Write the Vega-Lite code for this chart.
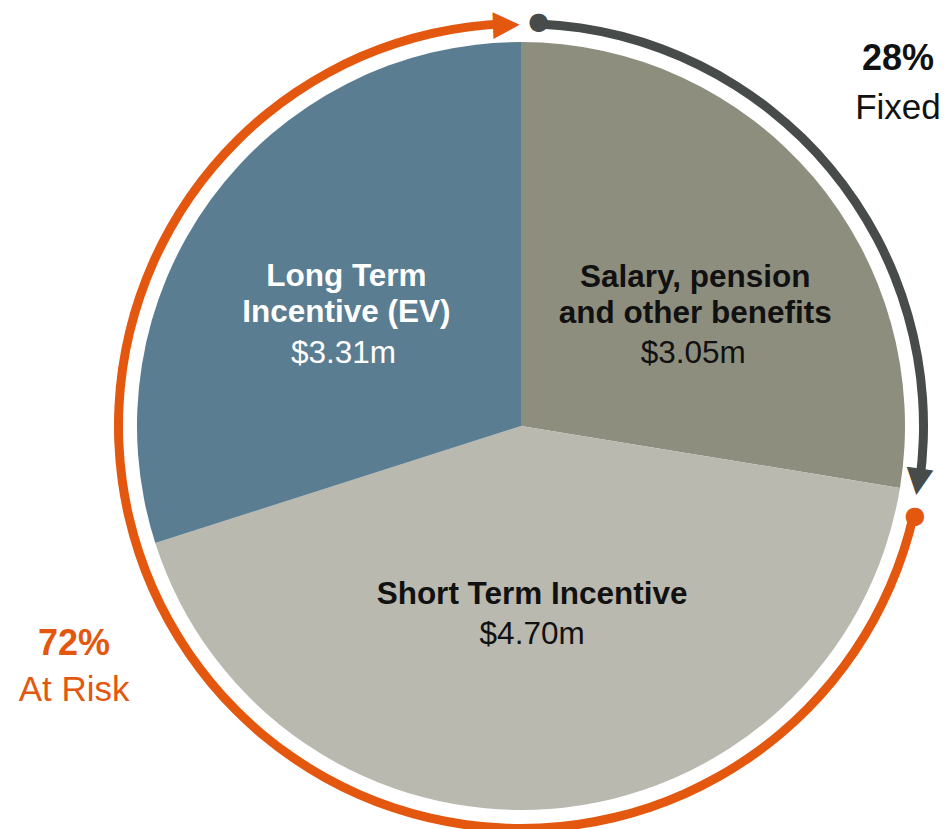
{
  "$schema": "https://vega.github.io/schema/vega-lite/v6.json",
  "width": 848,
  "height": 806,
  "autosize": {"type": "none"},
  "padding": {"left": 97, "top": 23, "right": 0, "bottom": 0},
  "background": "white",
  "config": {"view": {"stroke": null}, "font": "Liberation Sans"},
  "datasets": {
    "slices": [
      {"key": "salary", "order": 1, "value": 3.05, "title": "Salary, pension\nand other benefits", "amount": "$3.05m"},
      {"key": "sti", "order": 2, "value": 4.70, "title": "Short Term Incentive", "amount": "$4.70m"},
      {"key": "lti", "order": 3, "value": 3.31, "title": "Long Term\nIncentive (EV)", "amount": "$3.31m"}
    ],
    "rings": [
      {"group": "Fixed", "pct": "28%", "start": 2.5, "end": 98.0},
      {"group": "At Risk", "pct": "72%", "start": 102.8, "end": 357.9}
    ]
  },
  "resolve": {"scale": {"theta": "independent"}},
  "layer": [
    {
      "data": {"name": "slices"},
      "mark": {"type": "arc", "outerRadius": 384},
      "encoding": {
        "theta": {"field": "value", "type": "quantitative", "stack": true},
        "order": {"field": "order", "type": "quantitative"},
        "detail": {"field": "key"},
        "fill": {"field": "key", "type": "nominal", "scale": {"domain": ["salary", "sti", "lti"], "range": ["#8d8e7e", "#bab9af", "#5a7d92"]}, "legend": null}
      }
    },
    {
      "data": {"name": "slices"},
      "mark": {"type": "text", "radius": 205, "dx": 18, "dy": -6, "align": "center", "baseline": "alphabetic", "fontWeight": "bold", "fontSize": 31.5, "lineHeight": 36, "lineBreak": "\n", "fill": "#111111"},
      "encoding": {
        "theta": {"field": "value", "type": "quantitative", "stack": true},
        "order": {"field": "order", "type": "quantitative"},
        "detail": {"field": "key"},
        "text": {"condition": {"test": "datum.key === 'salary'", "field": "title"}, "value": ""}
      }
    },
    {
      "data": {"name": "slices"},
      "mark": {"type": "text", "radius": 205, "dx": 16, "dy": 70, "align": "center", "baseline": "alphabetic", "fontSize": 31.5, "fill": "#111111"},
      "encoding": {
        "theta": {"field": "value", "type": "quantitative", "stack": true},
        "order": {"field": "order", "type": "quantitative"},
        "detail": {"field": "key"},
        "text": {"condition": {"test": "datum.key === 'salary'", "field": "amount"}, "value": ""}
      }
    },
    {
      "data": {"name": "slices"},
      "mark": {"type": "text", "radius": 205, "dx": -4, "dy": -26, "align": "center", "baseline": "alphabetic", "fontWeight": "bold", "fontSize": 31.5, "lineHeight": 36, "lineBreak": "\n", "fill": "#111111"},
      "encoding": {
        "theta": {"field": "value", "type": "quantitative", "stack": true},
        "order": {"field": "order", "type": "quantitative"},
        "detail": {"field": "key"},
        "text": {"condition": {"test": "datum.key === 'sti'", "field": "title"}, "value": ""}
      }
    },
    {
      "data": {"name": "slices"},
      "mark": {"type": "text", "radius": 205, "dx": -4, "dy": 14, "align": "center", "baseline": "alphabetic", "fontSize": 31.5, "fill": "#111111"},
      "encoding": {
        "theta": {"field": "value", "type": "quantitative", "stack": true},
        "order": {"field": "order", "type": "quantitative"},
        "detail": {"field": "key"},
        "text": {"condition": {"test": "datum.key === 'sti'", "field": "amount"}, "value": ""}
      }
    },
    {
      "data": {"name": "slices"},
      "mark": {"type": "text", "radius": 205, "dx": -9, "dy": -19, "align": "center", "baseline": "alphabetic", "fontWeight": "bold", "fontSize": 31.5, "lineHeight": 36, "lineBreak": "\n", "fill": "#ffffff"},
      "encoding": {
        "theta": {"field": "value", "type": "quantitative", "stack": true},
        "order": {"field": "order", "type": "quantitative"},
        "detail": {"field": "key"},
        "text": {"condition": {"test": "datum.key === 'lti'", "field": "title"}, "value": ""}
      }
    },
    {
      "data": {"name": "slices"},
      "mark": {"type": "text", "radius": 205, "dx": -12, "dy": 58, "align": "center", "baseline": "alphabetic", "fontSize": 31.5, "fill": "#ffffff"},
      "encoding": {
        "theta": {"field": "value", "type": "quantitative", "stack": true},
        "order": {"field": "order", "type": "quantitative"},
        "detail": {"field": "key"},
        "text": {"condition": {"test": "datum.key === 'lti'", "field": "amount"}, "value": ""}
      }
    },
    {
      "data": {"name": "rings"},
      "mark": {"type": "arc", "innerRadius": 398, "outerRadius": 407},
      "encoding": {
        "theta": {"field": "start", "type": "quantitative", "scale": {"domain": [0, 360]}},
        "theta2": {"field": "end"},
        "fill": {"condition": {"test": "datum.group === 'Fixed'", "value": "#474b49"}, "value": "#e4570f"}
      }
    },
    {
      "data": {"name": "rings"},
      "mark": {"type": "text", "radius": 404, "align": "center", "baseline": "middle", "font": "DejaVu Sans", "fontSize": 24},
      "encoding": {
        "theta": {"field": "start", "type": "quantitative", "scale": {"domain": [0, 360]}},
        "text": {"value": "●"},
        "fill": {"condition": {"test": "datum.group === 'Fixed'", "value": "#474b49"}, "value": "#e4570f"}
      }
    },
    {
      "data": {"name": "rings"},
      "mark": {"type": "text", "radius": 403, "align": "center", "baseline": "middle", "font": "DejaVu Sans", "fontSize": 35},
      "encoding": {
        "theta": {"field": "end", "type": "quantitative", "scale": {"domain": [0, 360]}},
        "angle": {"field": "end", "type": "quantitative", "scale": null},
        "text": {"value": "▶"},
        "fill": {"condition": {"test": "datum.group === 'Fixed'", "value": "#474b49"}, "value": "#e4570f"}
      }
    },
    {
      "data": {"name": "rings"},
      "transform": [{"filter": "datum.group === 'Fixed'"}],
      "mark": {"type": "text", "theta": 0.814, "radius": 518.5, "align": "center", "baseline": "alphabetic", "fontWeight": "bold", "fontSize": 36, "fill": "#111111"},
      "encoding": {"text": {"field": "pct"}}
    },
    {
      "data": {"name": "rings"},
      "transform": [{"filter": "datum.group === 'Fixed'"}],
      "mark": {"type": "text", "theta": 0.814, "radius": 518.5, "dy": 49, "align": "center", "baseline": "alphabetic", "fontSize": 35, "fill": "#111111"},
      "encoding": {"text": {"field": "group"}}
    },
    {
      "data": {"name": "rings"},
      "transform": [{"filter": "datum.group === 'At Risk'"}],
      "mark": {"type": "text", "theta": 4.2388, "radius": 502.2, "align": "center", "baseline": "alphabetic", "fontWeight": "bold", "fontSize": 36, "fill": "#e4570f"},
      "encoding": {"text": {"field": "pct"}}
    },
    {
      "data": {"name": "rings"},
      "transform": [{"filter": "datum.group === 'At Risk'"}],
      "mark": {"type": "text", "theta": 4.2388, "radius": 502.2, "dy": 46, "align": "center", "baseline": "alphabetic", "fontSize": 35, "fill": "#e4570f"},
      "encoding": {"text": {"field": "group"}}
    }
  ]
}
